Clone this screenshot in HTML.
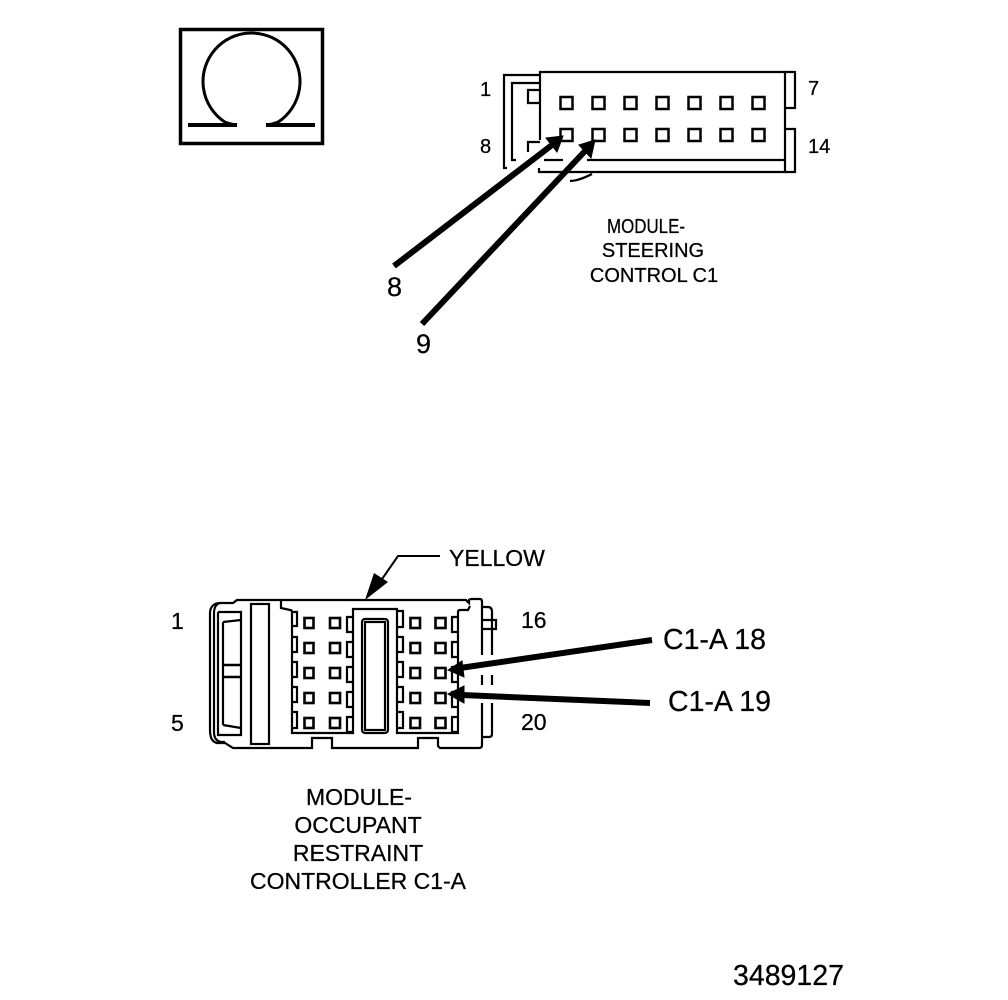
<!DOCTYPE html>
<html><head><meta charset="utf-8"><style>
html,body{margin:0;padding:0;background:#fff}
svg{display:block}
text{font-family:"Liberation Sans",Arial,sans-serif;fill:#000;stroke:#000;stroke-width:.25}
</style></head><body>
<svg width="1008" height="1000" viewBox="0 0 1008 1000" xmlns="http://www.w3.org/2000/svg">
<!-- Omega icon -->
<rect x="180.500" y="29.500" width="142" height="114" fill="none" stroke="#000" stroke-width="3.500"/>
<path d="M237 125Q231 124.500 224.800 122A48.500 48.500 0 1 1 278.200 122Q272 124.500 266 125" fill="none" stroke="#000" stroke-width="3"/>
<path d="M188 125H237M266 125H315" fill="none" stroke="#000" stroke-width="4"/>

<!-- Top connector -->
<g fill="none" stroke="#000" stroke-width="2.200">
<path d="M539 168V172H785V72H540V140"/>
<path d="M785 72H795V108H785"/>
<path d="M785 129H795V172H785"/>
<path d="M587 160H785"/>
<path d="M540 75H504V168H507"/>
<path d="M540 83H512V160H516"/>
<path d="M540 90H528V103H540"/>
<path d="M540 142H528V152"/>
<path d="M544 160H563"/>
<path d="M570 181C577 181 584 178 592 174"/>
<g stroke-width="2.500">
<rect x="560.500" y="97" width="12" height="12"/><rect x="592.500" y="97" width="12" height="12"/><rect x="624.500" y="97" width="12" height="12"/><rect x="656.500" y="97" width="12" height="12"/><rect x="688.500" y="97" width="12" height="12"/><rect x="720.500" y="97" width="12" height="12"/><rect x="752.500" y="97" width="12" height="12"/>
<rect x="560.500" y="129" width="12" height="12"/><rect x="592.500" y="129" width="12" height="12"/><rect x="624.500" y="129" width="12" height="12"/><rect x="656.500" y="129" width="12" height="12"/><rect x="688.500" y="129" width="12" height="12"/><rect x="720.500" y="129" width="12" height="12"/><rect x="752.500" y="129" width="12" height="12"/>
</g>
</g>
<!-- Top arrows -->
<path d="M394 266L552 145" stroke="#000" stroke-width="6" fill="none"/>
<path d="M563 136L546 138L557 152Z" fill="#000" stroke="#000"/>
<path d="M422 324L586 150" stroke="#000" stroke-width="6" fill="none"/>
<path d="M595 140L579 145L591 158Z" fill="#000" stroke="#000"/>

<g font-size="20">
<text x="480" y="96">1</text>
<text x="808" y="95">7</text>
<text x="480" y="153">8</text>
<text x="808" y="153">14</text>
<text x="607" y="233" textLength="78" lengthAdjust="spacingAndGlyphs">MODULE-</text>
<text x="653" y="257" text-anchor="middle">STEERING</text>
<text x="654" y="282" text-anchor="middle">CONTROL C1</text>
</g>
<g font-size="27">
<text x="387" y="296">8</text>
<text x="416" y="353">9</text>
</g>

<!-- Bottom connector -->
<g fill="none" stroke="#000" stroke-width="2.200">
<!-- outer body -->
<path d="M482 703V745Q482 748 479 748H440L438 746V738H418V748H332V738H312V748H233L225 743H217C212 742 210 737 210 730V613C210 607 214 603 220 603H233L237 600H466L469 603V600Q470 599 472 599H480Q482 599 482 602V655"/>
<path d="M482 675V685"/>
<path d="M220 603C216 604 214 608 214 613V732C214 737 216 741 221 742H225"/>
<!-- left latch -->
<path d="M218 612H241V735H218V612"/>
<path d="M223 622L241 620M223 725L241 728M223 622V725"/>
<path d="M223 665H241M223 677H241" stroke-width="2.500"/>
<rect x="251" y="604" width="18" height="140"/>
<!-- inner cavity -->
<path d="M281 600V608L290 610Q292 610 292 612V733H353V609H397V733H458V612Q458 610 460 610H468L470 606"/>
<!-- centre slot -->
<rect x="362" y="619" width="26" height="114" rx="3"/>
<rect x="365" y="622" width="20" height="108"/>
<!-- right side rails -->
<path d="M482 607H488Q492 607 492 612V655M492 675V685M492 703V734Q492 737 489 737H482"/>
<path d="M482 620H496V629H482"/>
<!-- yellow leader -->
<path d="M440 556H398L380 582" stroke-width="2"/>
<!-- cavity slots -->
<path d="M292 612H297V626H292M292 637H297V652H292M292 662H297V677H292M292 687H297V702H292M292 712H297V728H292"/>
<path d="M353 617H347V632H353M353 642H347V657H353M353 667H347V682H353M353 692H347V707H353M353 717H347V732H353"/>
<path d="M397 611H403V627H397M397 637H403V652H397M397 662H403V677H397M397 687H403V702H397M397 712H403V728H397"/>
<path d="M458 617H452V632H458M458 642H452V657H458M458 667H452V682H458M458 692H452V707H458M458 717H452V732H458"/>
<g stroke-width="2.600">
<rect x="304.500" y="618" width="9" height="10"/><rect x="330" y="618" width="10" height="10"/><rect x="410.500" y="618" width="9.500" height="10"/><rect x="435.500" y="618" width="10" height="10"/>
<rect x="304.500" y="643" width="9" height="10"/><rect x="330" y="643" width="10" height="10"/><rect x="410.500" y="643" width="9.500" height="10"/><rect x="435.500" y="643" width="10" height="10"/>
<rect x="304.500" y="668" width="9" height="10"/><rect x="330" y="668" width="10" height="10"/><rect x="410.500" y="668" width="9.500" height="10"/><rect x="435.500" y="668" width="10" height="10"/>
<rect x="304.500" y="693" width="9" height="10"/><rect x="330" y="693" width="10" height="10"/><rect x="410.500" y="693" width="9.500" height="10"/><rect x="435.500" y="693" width="10" height="10"/>
<rect x="304.500" y="718" width="9" height="10"/><rect x="330" y="718" width="10" height="10"/><rect x="410.500" y="718" width="9.500" height="10"/><rect x="435.500" y="718" width="10" height="10"/>
</g>
</g>
<path d="M365 600L388 582L374 573Z" fill="#000"/>
<path d="M652 640L460 668" stroke="#000" stroke-width="6" fill="none"/>
<path d="M448 670L462 661L464 677Z" fill="#000" stroke="#000"/>
<path d="M650 703L462 695" stroke="#000" stroke-width="6" fill="none"/>
<path d="M448 694L464 686L464 703Z" fill="#000" stroke="#000"/>

<g font-size="23">
<text x="449" y="566">YELLOW</text>
<text x="171" y="629">1</text>
<text x="171" y="731">5</text>
<text x="521" y="628">16</text>
<text x="521" y="730">20</text>
<text x="359" y="805" text-anchor="middle">MODULE-</text>
<text x="358" y="833" text-anchor="middle">OCCUPANT</text>
<text x="358" y="861" text-anchor="middle">RESTRAINT</text>
<text x="358" y="889" text-anchor="middle">CONTROLLER C1-A</text>
</g>
<g font-size="28.500">
<text x="663" y="649">C1-A 18</text>
<text x="668" y="711">C1-A 19</text>
<text x="733" y="985">3489127</text>
</g>
</svg>
</body></html>
